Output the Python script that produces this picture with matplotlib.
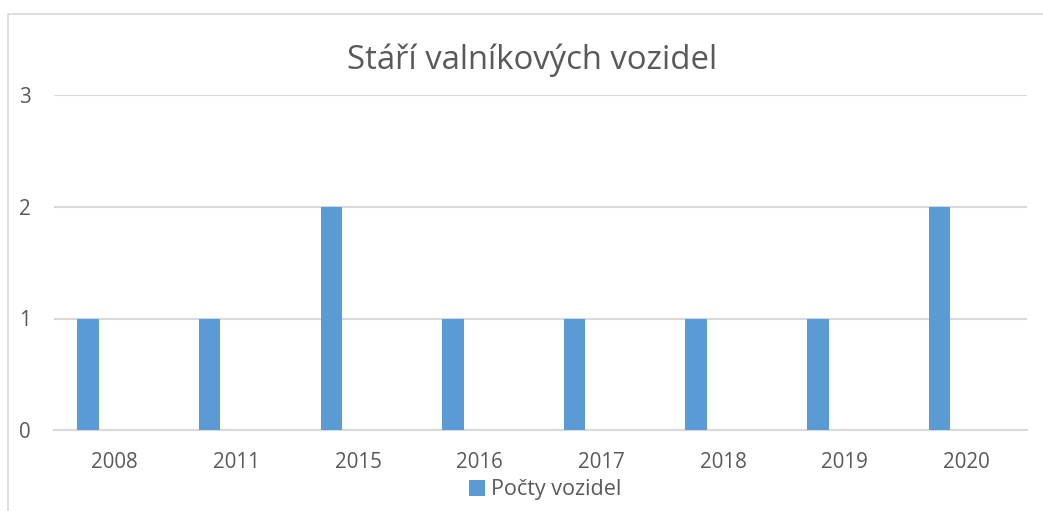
#!/usr/bin/env python3
"""Stari valnikovych vozidel - bar chart."""

import matplotlib
matplotlib.use('Agg')
import matplotlib.pyplot as plt
from matplotlib.patches import Rectangle
import numpy as np

plt.rcParams['font.family'] = ['Open Sans', 'DejaVu Sans']

# Data
years = ['2008', '2011', '2015', '2016', '2017', '2018', '2019', '2020']
counts = [1, 1, 2, 1, 1, 1, 1, 2]
series_name = 'Počty vozidel'
title = 'Stáří valníkových vozidel'

TXT = '#595959'
GRID = '#d9d9d9'
BAR = '#5b9bd5'

fig = plt.figure(figsize=(10.43, 5.11), dpi=100)
ax = fig.add_axes([54 / 1043, 1 - 430 / 511, 973 / 1043, 334.5 / 511])

# chart frame (only left/top edges are visible in the crop)
fig.patches.append(Rectangle((8 / 1043, -0.1), 1.2, 1 - 14 / 511 + 0.1,
                             transform=fig.transFigure, fill=False,
                             edgecolor=GRID, lw=1.2))

x = np.arange(len(years))
ax.bar(x - 0.22, counts, width=0.177, color=BAR, zorder=3, label=series_name)

ax.set_xlim(-0.5, len(years) - 0.5)
ax.set_ylim(0, 3)
ax.set_yticks([0, 1, 2, 3])
ax.set_xticks(x)
ax.set_xticklabels(years)
ax.yaxis.grid(True, color=GRID, lw=1.5, zorder=0)
ax.set_axisbelow(True)
for s in ['top', 'right', 'left']:
    ax.spines[s].set_visible(False)
ax.spines['bottom'].set_color(GRID)
ax.spines['bottom'].set_linewidth(1.5)
ax.tick_params(axis='both', length=0, labelsize=14.8, labelcolor=TXT)
ax.tick_params(axis='x', pad=16)
ax.tick_params(axis='y', pad=16.5)

fig.text(532 / 1043, 1 - 60 / 511, title, ha='center', va='center',
         fontsize=23.7, color=TXT)

fig.legend(loc='center', bbox_to_anchor=(545 / 1043, 1 - 490 / 511),
           frameon=False, fontsize=15.5, labelcolor=TXT, handlelength=0.75,
           handleheight=0.75, handletextpad=0.3)

fig.savefig('out.png', dpi=100)
